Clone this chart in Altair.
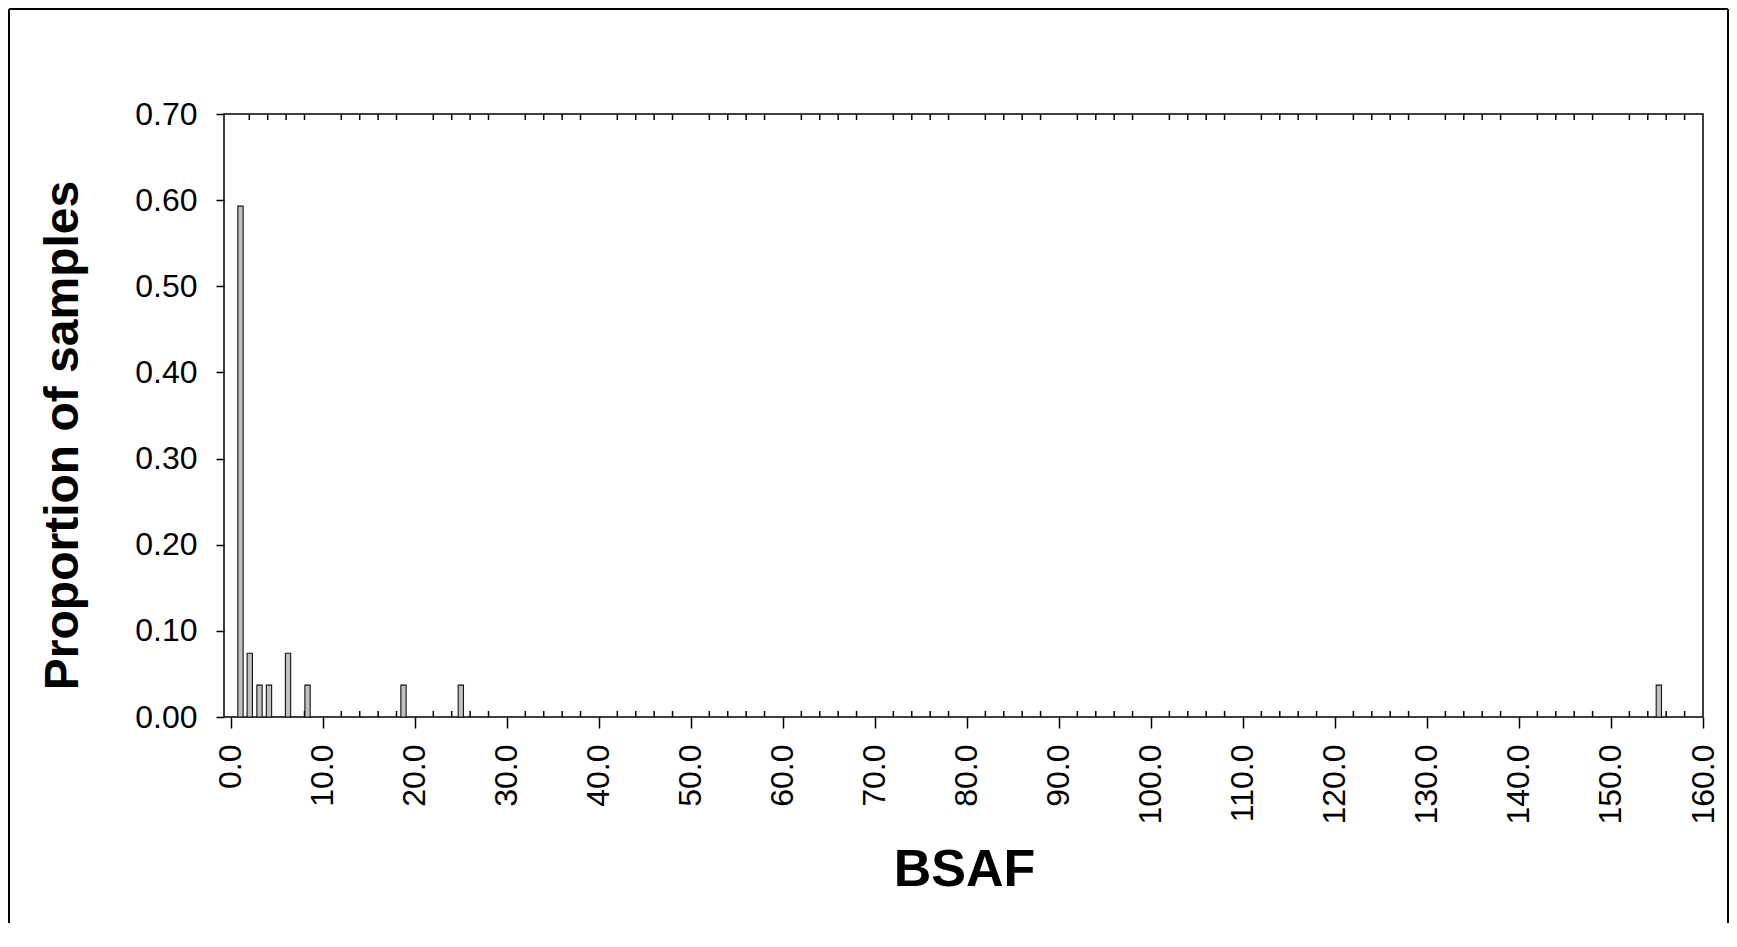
import altair as alt
import pandas as pd

# Data
bsaf_values = [1.04, 2.05, 3.11, 4.14, 6.21, 8.33, 18.76, 24.99, 155.2]
proportions = [0.593, 0.074, 0.037, 0.037, 0.074, 0.037, 0.037, 0.037, 0.037]

x_major_ticks = [0, 10, 20, 30, 40, 50, 60, 70, 80, 90, 100, 110, 120, 130, 140, 150, 160]
x_minor_ticks = [v for v in range(2, 160, 2) if v % 10 != 0]
y_ticks = [0.0, 0.1, 0.2, 0.3, 0.4, 0.5, 0.6, 0.7]

W, H = 1479, 603
PAD = {"left": 216, "top": 106, "right": 26, "bottom": 206}
FONT = "Liberation Sans"

df = pd.DataFrame({"bsaf": bsaf_values, "prop": proportions})
minor_df = pd.DataFrame({"t": x_minor_ticks})

xscale = alt.Scale(domain=[-0.75, 160], nice=False, zero=False, padding=0)
yscale = alt.Scale(domain=[0, 0.7], nice=False, padding=0)

x_axis = alt.Axis(values=x_major_ticks, format=".1f", title="BSAF",
                  labelAngle=270, labelFontSize=32, labelFont=FONT,
                  labelColor="#000", labelPadding=16, labelFlush=False,
                  labelOverlap=False, tickSize=11, tickWidth=1.5,
                  tickColor="#000", domain=False, grid=False,
                  titleFont=FONT, titleFontSize=52, titleFontWeight="bold",
                  titleColor="#000", titleX=740, titleY=168,
                  titleAlign="center", titleBaseline="alphabetic")

y_axis = alt.Axis(values=y_ticks, format=".2f", title="Proportion of samples",
                  labelFontSize=32, labelFont=FONT, labelColor="#000",
                  labelPadding=19, tickSize=8, tickWidth=1.5, tickColor="#000",
                  domain=False, grid=False, labelFlush=False,
                  titleFont=FONT, titleFontSize=48, titleFontWeight="bold",
                  titleColor="#000", titleAngle=270, titleX=-147, titleY=321,
                  titleAlign="center", titleBaseline="alphabetic")

minor_bottom = alt.Chart(minor_df).mark_rule(color="#000", strokeWidth=1.5).encode(
    x=alt.X("t:Q", scale=xscale, axis=x_axis),
    y=alt.value(H - 6), y2=alt.value(H),
)
minor_top = alt.Chart(minor_df).mark_rule(color="#000", strokeWidth=1.5).encode(
    x=alt.X("t:Q", scale=xscale, axis=x_axis),
    y=alt.value(0), y2=alt.value(6),
)

bars = alt.Chart(df).mark_bar(
    size=5.3, fill="#c0c0c0", stroke="#111111", strokeWidth=1.1, orient="vertical"
).encode(
    x=alt.X("bsaf:Q", scale=xscale, axis=x_axis),
    y=alt.Y("prop:Q", scale=yscale, axis=y_axis),
)

one = alt.Data(values=[{"k": 1}])
top_edge = -PAD["top"] + 1
bottom_edge = H + PAD["bottom"]
left_edge = -PAD["left"] + 1
right_edge = W + PAD["right"] - 1
border_left = alt.Chart(one).mark_rule(color="#000", strokeWidth=2).encode(
    x=alt.value(left_edge), y=alt.value(top_edge), y2=alt.value(bottom_edge))
border_top = alt.Chart(one).mark_rule(color="#000", strokeWidth=2).encode(
    x=alt.value(left_edge), x2=alt.value(right_edge), y=alt.value(top_edge))
border_right = alt.Chart(one).mark_rule(color="#000", strokeWidth=2).encode(
    x=alt.value(right_edge), y=alt.value(top_edge), y2=alt.value(bottom_edge))

chart = alt.layer(
    minor_bottom, minor_top, bars, border_left, border_top, border_right
).properties(
    width=W, height=H,
    padding=PAD,
    autosize=alt.AutoSizeParams(type="none"),
    background="white",
).configure_view(
    stroke="#000", strokeWidth=1.5
)

chart.save("out.html", embed_options={"renderer": "svg", "actions": False})
